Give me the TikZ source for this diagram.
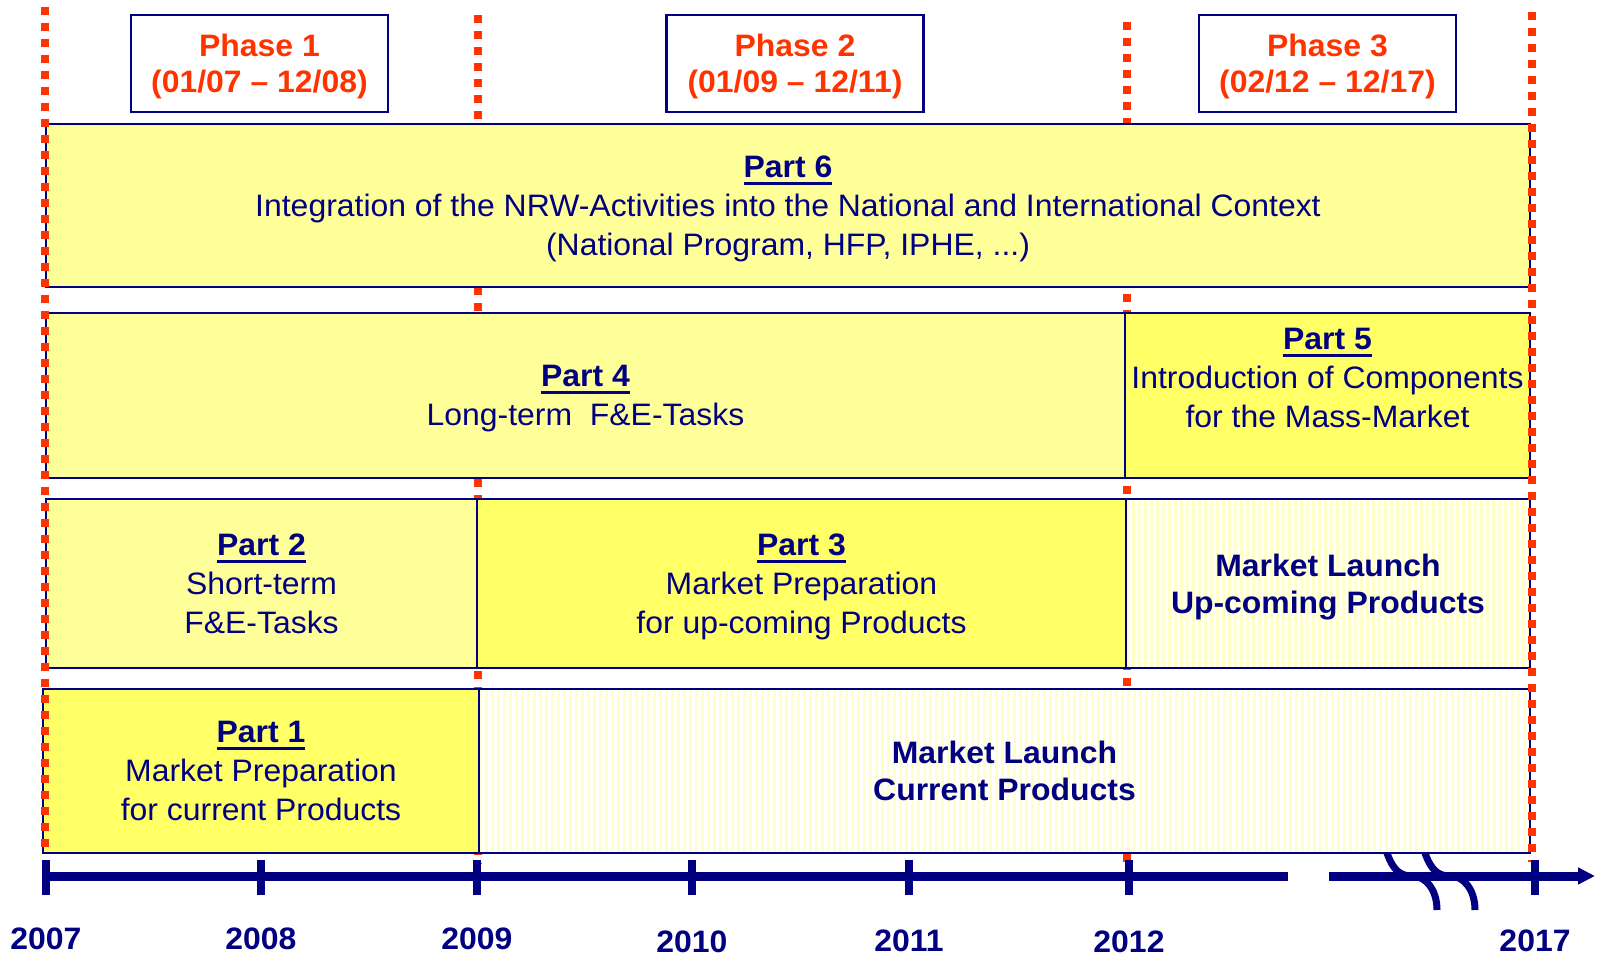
\documentclass[tikz,border=0pt]{standalone}
\usepackage{fontspec}
\setmainfont{Liberation Sans}[FakeStretch=1.03]
\usetikzlibrary{arrows.meta}

\definecolor{navy}{RGB}{0,0,128}
\definecolor{phasered}{RGB}{255,51,0}
\definecolor{paleyel}{RGB}{255,255,153}
\definecolor{brightyel}{RGB}{255,255,102}
\definecolor{stripeyel}{RGB}{255,255,200}

\newcommand{\parttitle}[1]{\setbox0\hbox{\bfseries Part #1}\rlap{\rule[-3.6pt]{\wd0}{1.5pt}}\box0}

\tikzset{
  part/.style={draw=navy, line width=1.2pt, inner sep=0pt, align=center, text=navy,
    text depth=-3pt, font=\fontsize{15.5}{19.5}\selectfont},
  pale/.style={part, fill=paleyel},
  bright/.style={part, fill=brightyel},
  launch/.style={part, fill=white, font=\fontsize{15.5}{18.5}\selectfont\bfseries,
    path picture={\foreach \i in {0,3,...,540}
      \fill[stripeyel] ([xshift=\i pt]path picture bounding box.south west) rectangle ++(1.5pt,100pt);}},
  phase/.style={draw=navy, line width=1.2pt, inner sep=0pt, align=center, text=phasered,
    text depth=0pt, font=\fontsize{15.5}{18}\selectfont\bfseries,
    minimum width=128.5pt, minimum height=48.5pt},
  phaseline/.style={phasered, line width=4pt, dash pattern=on 4pt off 4pt},
  timeline/.style={navy, line width=4.5pt},
  yeartick/.style={navy, line width=4pt},
  year/.style={text=navy, inner sep=0pt, font=\fontsize{15.5}{18}\selectfont\bfseries},
  breakmark/.style={navy, line width=3.5pt},
}

\begin{document}
\begin{tikzpicture}[x=0.5pt, y=-0.5pt]
  \useasboundingbox (0,0) rectangle (1602,956);

  % phase borders behind the boxes
  \draw[phaseline] (478,15) -- (478,864);
  \draw[phaseline] (1127,22) -- (1127,864);

  \node[phase] (ph1) at (259.5,63.5) {Phase 1\\(01/07 -- 12/08)}; %
  \node[phase] (ph2) at (795,63.5)   {Phase 2\\(01/09 -- 12/11)}; %
  \node[phase] (ph3) at (1327.5,63.5) {Phase 3\\(02/12 -- 12/17)}; %

  \node[pale, minimum width=742pt, minimum height=81.5pt] (p6) at (788,205.5)
    {\parttitle{6}\\Integration of the NRW-Activities into the National and International Context\\(National Program, HFP, IPHE, ...)}; %

  \node[pale, minimum width=539.5pt, minimum height=82.5pt] (p4) at (585.5,395.5)
    {\parttitle{4}\\Long-term\ \ F\&E-Tasks}; %
  \node[bright, minimum width=202.5pt, minimum height=82.5pt] (p5) at (1327.5,395.5) {}; %
  \node[part, draw=none] (p5-lbl) at (1327.5,378)
    {\parttitle{5}\\Introduction of Components\\for the Mass-Market}; %

  \node[pale, minimum width=215.5pt, minimum height=84.5pt] (p2) at (261.5,583.5)
    {\parttitle{2}\\Short-term\\F\&E-Tasks}; %
  \node[bright, minimum width=324.5pt, minimum height=84.5pt] (p3) at (801.5,583.5)
    {\parttitle{3}\\Market Preparation\\for up-coming Products}; %
  \node[launch, minimum width=202pt, minimum height=84.5pt] (ml-up) at (1328,583.5)
    {Market Launch\\Up-coming Products}; %

  \node[bright, minimum width=218pt, minimum height=82pt] (p1) at (261,771)
    {\parttitle{1}\\Market Preparation\\for current Products}; %
  \node[launch, minimum width=525.5pt, minimum height=82pt] (ml-cur) at (1004.5,771)
    {Market Launch\\Current Products}; %

  % outer phase borders on top
  \draw[phaseline] (45,7) -- (45,852);
  \draw[phaseline] (1532,12) -- (1532,862);

  % time axis
  \coordinate (t0) at (43,876);
  \coordinate (t1) at (1288,876);
  \coordinate (t2) at (1329,876);
  \coordinate (t3) at (1595,876);
  \draw[timeline] (t0) -- (t1);
  \draw[timeline, -{Triangle[length=8.5pt,width=8pt]}] (t2) -- (t3);

  \foreach \x/\yr/\ty in {46/2007/939, 261/2008/939, 477/2009/939, 692/2010/942,
                          909/2011/941, 1129/2012/942, 1535/2017/941}{
    \draw[yeartick] (\x,860) -- (\x,895);
    \node[year] (y\yr) at (\x,\ty) {\yr};
  }

  \foreach \dx in {0,38}{
    \draw[breakmark] (1387+\dx,853) .. controls (1393+\dx,870) and (1400+\dx,876) .. (1412+\dx,876)
      .. controls (1426+\dx,876) and (1437+\dx,890) .. (1437+\dx,910);
  }
\end{tikzpicture}
\end{document}
